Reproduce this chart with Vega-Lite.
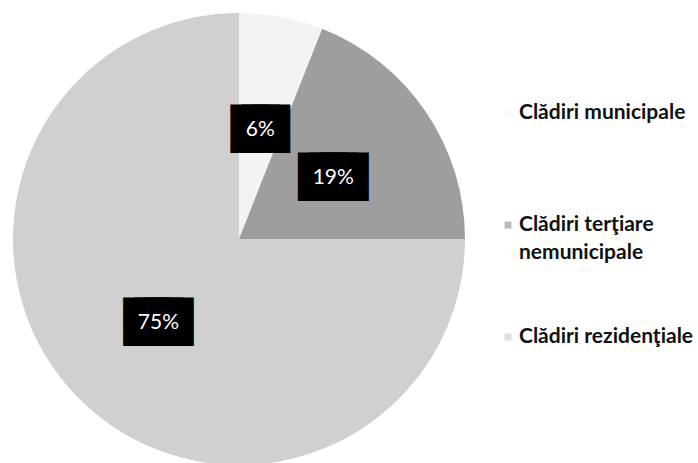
{
  "$schema": "https://vega.github.io/schema/vega-lite/v6.json",
  "padding": {"left": 0, "top": 13, "right": 0, "bottom": 0},
  "autosize": {"type": "pad"},
  "background": "white",
  "spacing": 24,
  "config": {"view": {"stroke": null}, "font": "Lato"},
  "data": {
    "values": [
      {"categorie": "Clădiri municipale", "procent": 6, "eticheta": "6%", "ordine": 1},
      {"categorie": "Clădiri terţiare\nnemunicipale", "procent": 19, "eticheta": "19%", "ordine": 2},
      {"categorie": "Clădiri rezidenţiale", "procent": 75, "eticheta": "75%", "ordine": 3}
    ]
  },
  "hconcat": [
    {
      "width": 478,
      "height": 452,
      "encoding": {
        "theta": {"field": "procent", "type": "quantitative", "stack": true},
        "order": {"field": "ordine", "type": "quantitative"}
      },
      "layer": [
        {
          "mark": {"type": "arc"},
          "encoding": {
            "color": {
              "field": "categorie",
              "type": "nominal",
              "scale": {
                "domain": ["Clădiri municipale", "Clădiri terţiare\nnemunicipale", "Clădiri rezidenţiale"],
                "range": ["#f3f3f3", "#9e9e9e", "#d0d0d0"]
              },
              "legend": null
            }
          }
        },
        {
          "mark": {
            "type": "text",
            "radius": 114,
            "dy": 3,
            "font": "DejaVu Sans Mono",
            "fontSize": 18,
            "fill": "black",
            "stroke": "black",
            "strokeWidth": 27,
            "strokeJoin": "miter",
            "text": {"expr": "pad('', length(datum.eticheta) + 1, '█')"}
          },
          "encoding": {
            "detail": {"field": "categorie", "type": "nominal"}
          }
        },
        {
          "mark": {
            "type": "text",
            "radius": 114,
            "dy": 3,
            "font": "Lato",
            "fontSize": 21,
            "fill": "white"
          },
          "encoding": {
            "detail": {"field": "categorie", "type": "nominal"},
            "text": {"field": "eticheta", "type": "nominal"}
          }
        }
      ]
    },
    {
      "width": 12,
      "height": 424,
      "encoding": {
        "y": {
          "field": "categorie",
          "type": "nominal",
          "sort": {"field": "ordine"},
          "scale": {"type": "point", "padding": 0.893},
          "axis": null
        }
      },
      "layer": [
        {
          "mark": {"type": "point", "shape": "square", "filled": true, "size": 49},
          "encoding": {
            "color": {"field": "categorie", "type": "nominal", "legend": null}
          }
        },
        {
          "mark": {
            "type": "text",
            "align": "left",
            "baseline": "middle",
            "dx": 11,
            "font": "Lato",
            "fontSize": 21,
            "fontWeight": "bold",
            "lineHeight": 28,
            "lineBreak": "\n",
            "color": "#111111"
          },
          "encoding": {
            "text": {"field": "categorie", "type": "nominal"}
          }
        }
      ]
    }
  ]
}
